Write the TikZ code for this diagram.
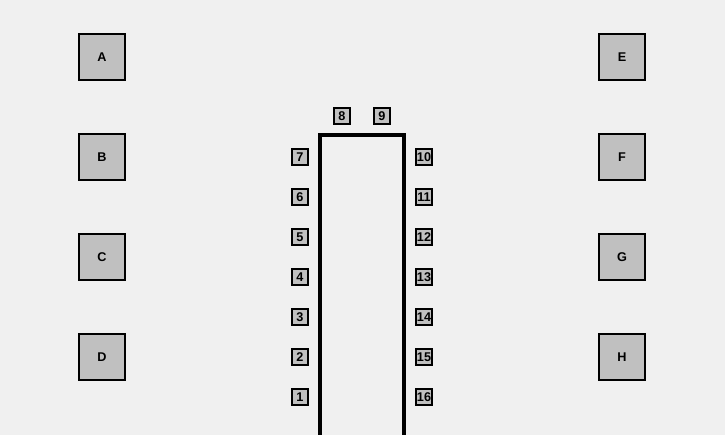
\documentclass[tikz,border=0pt]{standalone}
\usepackage{fontspec}
\setmainfont{Liberation Sans}
\definecolor{bgc}{RGB}{240,240,240}
\definecolor{boxc}{RGB}{192,192,192}
\begin{document}
\begin{tikzpicture}[x=0.75pt,y=-0.75pt,
  bigbox/.style={draw=black,line width=1.6pt,fill=boxc,minimum width=34.4pt,minimum height=34.4pt,inner sep=0pt,font=\bfseries\fontsize{9.5}{11}\selectfont},
  pin/.style={draw=black,line width=1.6pt,fill=boxc,minimum width=12.4pt,minimum height=12.4pt,inner sep=0pt,font=\bfseries\fontsize{9.5}{11}\selectfont}]
\useasboundingbox (0,0) rectangle (725,435);
\fill[bgc] (0,0) rectangle (725,435);
% big boxes
\node[bigbox] (A) at (102,57) {A};
\node[bigbox] (B) at (102,157) {B};
\node[bigbox] (C) at (102,257) {C};
\node[bigbox] (D) at (102,357) {D};
\node[bigbox] (E) at (622,57) {E};
\node[bigbox] (F) at (622,157) {F};
\node[bigbox] (G) at (622,257) {G};
\node[bigbox] (H) at (622,357) {H};
% chip outline
\draw[line width=2.4pt] (320,437) -- (320,135) -- (404,135) -- (404,437);
% pins
\node[pin] (p1) at (300,397) {1};
\node[pin] (p2) at (300,357) {2};
\node[pin] (p3) at (300,317) {3};
\node[pin] (p4) at (300,277) {4};
\node[pin] (p5) at (300,237) {5};
\node[pin] (p6) at (300,197) {6};
\node[pin] (p7) at (300,157) {7};
\node[pin] (p8) at (342,116) {8};
\node[pin] (p9) at (382,116) {9};
\node[pin] (p10) at (424,157) {10};
\node[pin] (p11) at (424,197) {11};
\node[pin] (p12) at (424,237) {12};
\node[pin] (p13) at (424,277) {13};
\node[pin] (p14) at (424,317) {14};
\node[pin] (p15) at (424,357) {15};
\node[pin] (p16) at (424,397) {16};
\end{tikzpicture}
\end{document}
